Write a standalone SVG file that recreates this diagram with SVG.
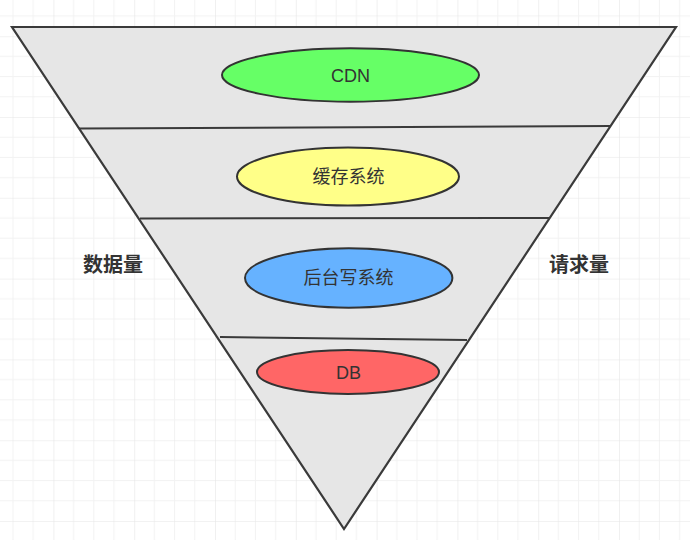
<svg xmlns="http://www.w3.org/2000/svg" width="690" height="540" viewBox="0 0 690 540">
  <defs>
    <pattern id="grid" x="53.4" y="36.2" width="80.8" height="80.8" patternUnits="userSpaceOnUse">
      <path d="M20.2 0V80.8M40.4 0V80.8M60.6 0V80.8M0 20.2H80.8M0 40.4H80.8M0 60.6H80.8" stroke="#f2f2f2" stroke-width="1" fill="none"/>
      <path d="M0 0V80.8M0 0H80.8" stroke="#e6e6e6" stroke-width="1.2" fill="none"/>
    </pattern>
    <style>
      .tri{fill:#e6e6e6;stroke:#3a3a3a;stroke-width:2.2;stroke-linejoin:miter}
      .sep{stroke:#3a3a3a;stroke-width:2;fill:none}
      .ell{stroke:#333;stroke-width:2}
      .lbl{font-family:"Liberation Sans","Noto Sans CJK SC",sans-serif;font-size:18px;fill:#333;text-anchor:middle}
      .side{font-family:"Liberation Sans","Noto Sans CJK SC",sans-serif;font-size:20px;font-weight:bold;fill:#333;text-anchor:middle}
    </style>
  </defs>
  <rect width="690" height="540" fill="#ffffff"/>
  <rect width="690" height="540" fill="url(#grid)"/>

  <g id="funnel">
    <polygon class="tri" points="12,27 676,27 344,529"/>
  </g>

  <g id="connectors">
    <line class="sep" x1="79" y1="128.5" x2="611" y2="126"/>
    <line class="sep" x1="140" y1="218.5" x2="549" y2="218"/>
    <line class="sep" x1="220" y1="337" x2="467" y2="340"/>
  </g>

  <g id="cdn">
    <ellipse class="ell" cx="350.5" cy="75" rx="128.5" ry="26.7" fill="#66ff66"/>
    <text class="lbl" x="350.5" y="82">CDN</text>
  </g>
  <g id="cache">
    <ellipse class="ell" cx="348" cy="176.5" rx="111" ry="29" fill="#ffff88"/>
    <text class="lbl" x="348.5" y="183">缓存系统</text>
  </g>
  <g id="backend">
    <ellipse class="ell" cx="348.7" cy="278" rx="103.7" ry="29.7" fill="#66b2ff"/>
    <text class="lbl" x="348.5" y="284">后台写系统</text>
  </g>
  <g id="db">
    <ellipse class="ell" cx="348" cy="372" rx="91" ry="22" fill="#ff6666"/>
    <text class="lbl" x="348.5" y="379">DB</text>
  </g>

  <g id="label-data">
    <text class="side" x="113" y="272">数据量</text>
  </g>
  <g id="label-request">
    <text class="side" x="579" y="272">请求量</text>
  </g>
</svg>
